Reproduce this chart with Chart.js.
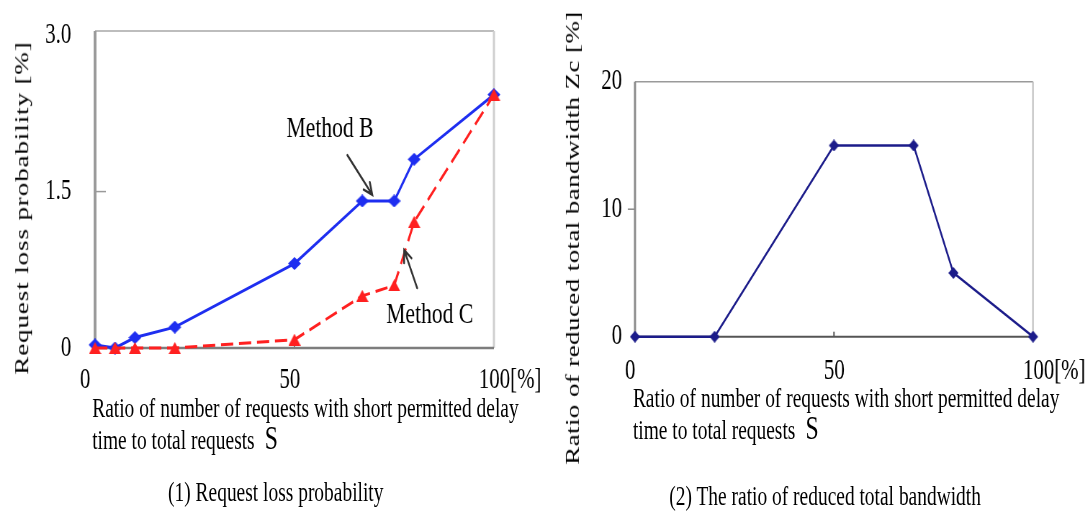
<!DOCTYPE html>
<html>
<head>
<meta charset="utf-8">
<script src="https://cdn.jsdelivr.net/npm/chart.js@4.4.1/dist/chart.umd.min.js"></script>
<style>
html,body{margin:0;padding:0;background:#fff;overflow:hidden;width:1091px;height:514px;}
#stage{position:absolute;left:0;top:0;width:1515px;height:514px;transform:scaleX(0.72);transform-origin:0 0;
  font-family:"Liberation Serif","Times New Roman",serif;color:#000;}
#stage canvas{position:absolute;top:0;}
.t{position:absolute;white-space:nowrap;font-size:27px;line-height:30px;}
.ytitle{position:absolute;white-space:nowrap;transform:translate(-50%,-50%) rotate(-90deg);font-size:27px;line-height:1;}
.cap{position:absolute;white-space:nowrap;font-size:27px;line-height:30px;transform:translateX(-50%);}
.big{font-size:33px;margin-left:14px;}
</style>
</head>
<body>
<div id="stage">
  <canvas id="c1" width="780" height="514" style="left:0px"></canvas>
  <canvas id="c2" width="735" height="514" style="left:780px"></canvas>
  <div class="ytitle" style="left:30.6px;top:208px;letter-spacing:0.9px">Request loss probability [%]</div>
  <div class="ytitle" style="left:795.8px;top:238px;letter-spacing:0.4px">Ratio of reduced total bandwidth Zc [%]</div>
  <div class="t" style="left:128px;top:393px">Ratio of number of requests with short permitted delay</div>
  <div class="t" style="left:128px;top:423px">time to total requests<span class="big">S</span></div>
  <div class="t" style="left:879px;top:383px">Ratio of number of requests with short permitted delay</div>
  <div class="t" style="left:879px;top:413px">time to total requests<span class="big">S</span></div>
  <div class="cap" style="left:383px;top:477px">(1) Request loss probability</div>
  <div class="cap" style="left:1146px;top:481px">(2) The ratio of reduced total bandwidth</div>
</div>
<script>
// ---- data ----
const sLoss   = [0, 5, 10, 20, 50, 67, 75, 80, 100];
const methodB = [0.03, 0, 0.1, 0.2, 0.81, 1.41, 1.41, 1.81, 2.43];
const methodC = [0, 0, 0, 0, 0.08, 0.5, 0.6, 1.21, 2.43];
const sBw     = [0, 20, 50, 70, 80, 100];
const zc      = [0, 0, 15, 15, 5, 0];
const xTickValues  = [0, 50, 100];
const xTickLabels  = ['0', '50', '100[%]'];
const yTickValuesL = [0, 1.5, 3.0];
const yTickLabelsL = ['0', '1.5', '3.0'];
const yTickValuesR = [0, 10, 20];
const yTickLabelsR = ['0', '10', '20'];

// ---- styling helpers ----
const FONT = "'Liberation Serif','Times New Roman',serif";
function diamond(w, h, color) {
  const c = document.createElement('canvas'); c.width = w; c.height = h;
  const g = c.getContext('2d'); g.fillStyle = color; g.beginPath();
  g.moveTo(w / 2, 0); g.lineTo(w, h / 2); g.lineTo(w / 2, h); g.lineTo(0, h / 2); g.closePath(); g.fill();
  return c;
}
function triangle(w, h, color) {
  const c = document.createElement('canvas'); c.width = w; c.height = h;
  const g = c.getContext('2d'); g.fillStyle = color; g.beginPath();
  g.moveTo(w / 2, 0); g.lineTo(w, h); g.lineTo(0, h); g.closePath(); g.fill();
  return c;
}
function makeFrame(cfg) {
  return {
    id: 'frame',
    beforeDatasetsDraw(chart) {
      const a = chart.chartArea, ctx = chart.ctx, xs = chart.scales.x, ys = chart.scales.y;
      const seg = (x1, y1, x2, y2, s) => { ctx.strokeStyle = s.c; ctx.lineWidth = s.w; ctx.beginPath(); ctx.moveTo(x1, y1); ctx.lineTo(x2, y2); ctx.stroke(); };
      ctx.save();
      seg(a.left, a.top, a.right, a.top, cfg.top);
      seg(a.right, a.top, a.right, a.bottom, cfg.right);
      seg(a.left, a.top, a.left, a.bottom, cfg.left);
      seg(a.left, a.bottom, a.right, a.bottom, cfg.bottom);
      cfg.yMarks.forEach(v => { const p = ys.getPixelForValue(v); seg(a.left, p, a.left + cfg.yLen, p, {c: cfg.left.c, w: 1.5}); });
      cfg.xMarks.forEach(v => { const p = xs.getPixelForValue(v); seg(p, a.bottom, p, a.bottom - cfg.xLen, {c: cfg.bottom.c, w: 2}); });
      ctx.restore();
    }
  };
}
function makeNotes(cfg) {
  return {
    id: 'notes',
    afterDatasetsDraw(chart) {
      const ctx = chart.ctx, xs = chart.scales.x, ys = chart.scales.y;
      ctx.save();
      ctx.strokeStyle = cfg.arrowColor; ctx.lineWidth = cfg.arrowWidth; ctx.lineCap = 'round';
      cfg.arrows.forEach(a => {
        const x1 = xs.getPixelForValue(a.x1), y1 = ys.getPixelForValue(a.y1);
        const x2 = xs.getPixelForValue(a.x2), y2 = ys.getPixelForValue(a.y2);
        const ang = Math.atan2(y2 - y1, x2 - x1), L = 13, th = 0.45;
        ctx.beginPath(); ctx.moveTo(x1, y1); ctx.lineTo(x2, y2);
        ctx.moveTo(x2 - L * Math.cos(ang - th), y2 - L * Math.sin(ang - th)); ctx.lineTo(x2, y2);
        ctx.lineTo(x2 - L * Math.cos(ang + th), y2 - L * Math.sin(ang + th));
        ctx.stroke();
      });
      ctx.fillStyle = '#000'; ctx.font = cfg.font; ctx.textAlign = 'left'; ctx.textBaseline = 'alphabetic';
      cfg.labels.forEach(n => ctx.fillText(n.text, xs.getPixelForValue(n.x), ys.getPixelForValue(n.y)));
      ctx.restore();
    }
  };
}
function xScale(offset, pad, height) {
  return {
    type: 'linear', min: 0, max: 100,
    afterBuildTicks: s => { s.ticks = xTickValues.map(v => ({value: v})); },
    ticks: {callback: (v, i) => xTickLabels[i], align: 'start', labelOffset: offset, padding: pad,
      maxRotation: 0, minRotation: 0, autoSkip: false, color: '#000', font: {family: FONT, size: 29}},
    grid: {display: false, drawTicks: false}, border: {display: false},
    afterFit: s => { s.height = height; s.paddingLeft = 0; s.paddingRight = 0; }
  };
}
function yScale(max, vals, labels, pad, width) {
  return {
    type: 'linear', min: 0, max: max,
    afterBuildTicks: s => { s.ticks = vals.map(v => ({value: v})); },
    ticks: {callback: (v, i) => labels[i], padding: pad, autoSkip: false, color: '#000', font: {family: FONT, size: 29}},
    grid: {display: false, drawTicks: false}, border: {display: false},
    afterFit: s => { s.width = width; s.paddingTop = 0; s.paddingBottom = 0; }
  };
}

// ---- chart 1: request loss probability ----
const blue = '#1e2ef0', red = '#ff2020', navy = '#1c1c8a';
new Chart(document.getElementById('c1'), {
  type: 'line',
  data: {
    datasets: [
      {label: 'Method C', data: sLoss.map((x, i) => ({x, y: methodC[i]})), borderColor: red, backgroundColor: red,
       borderWidth: 3, borderDash: [17, 8], pointStyle: triangle(17, 12, red), pointRadius: 7, clip: false, order: 0},
      {label: 'Method B', data: sLoss.map((x, i) => ({x, y: methodB[i]})), borderColor: blue, backgroundColor: blue,
       borderWidth: 3, pointStyle: diamond(18, 13, blue), pointRadius: 7, clip: false, order: 1}
    ]
  },
  options: {
    responsive: false, animation: false, events: [],
    layout: {padding: {left: 0, top: 31, right: 94, bottom: 0}},
    plugins: {legend: {display: false}, tooltip: {enabled: false}},
    scales: {x: xScale(-21, 15, 166), y: yScale(3.04, yTickValuesL, yTickLabelsL, 33, 132)}
  },
  plugins: [
    makeFrame({top: {c: '#bdbdbd', w: 2}, right: {c: '#cfcfcf', w: 3}, left: {c: '#9a9a9a', w: 4}, bottom: {c: '#7d7d7d', w: 2.5},
      yMarks: [1.5], yLen: 15, xMarks: [50], xLen: 10}),
    makeNotes({arrowColor: '#333', arrowWidth: 2.5, font: "30px " + FONT,
      arrows: [{x1: 63.25, y1: 1.85, x2: 69.5, y2: 1.47}, {x1: 80.75, y1: 0.575, x2: 77.5, y2: 0.94}],
      labels: [{text: 'Method B', x: 48, y: 2.02}, {text: 'Method C', x: 73, y: 0.24}]})
  ]
});

// ---- chart 2: ratio of reduced total bandwidth ----
new Chart(document.getElementById('c2'), {
  type: 'line',
  data: {
    datasets: [
      {label: 'Zc', data: sBw.map((x, i) => ({x, y: zc[i]})), borderColor: navy, backgroundColor: navy,
       borderWidth: 2.5, pointStyle: diamond(14, 12, navy), pointRadius: 6, clip: false}
    ]
  },
  options: {
    responsive: false, animation: false, events: [],
    layout: {padding: {left: 0, top: 81.7, right: 80.3, bottom: 0}},
    plugins: {legend: {display: false}, tooltip: {enabled: false}},
    scales: {x: xScale(-14, 17, 177.3), y: yScale(20, yTickValuesR, yTickLabelsR, 18, 101.9)}
  },
  plugins: [
    makeFrame({top: {c: '#9a9a9a', w: 1.5}, right: {c: '#bbbbbb', w: 2}, left: {c: '#8a8a8a', w: 3}, bottom: {c: '#555555', w: 2},
      yMarks: [10], yLen: -10, xMarks: [50], xLen: 5})
  ]
});
</script>
</body>
</html>
